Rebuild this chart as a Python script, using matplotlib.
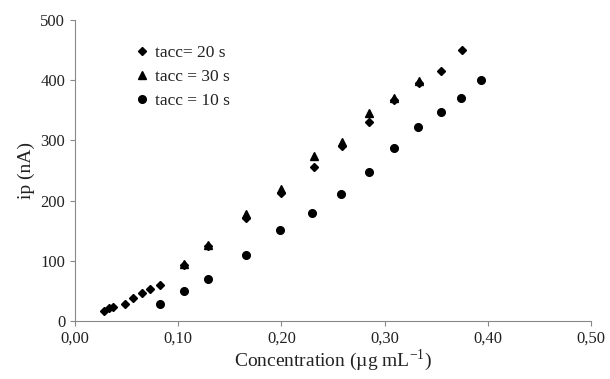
import numpy as np
import matplotlib.pyplot as plt
from matplotlib.ticker import FuncFormatter

plt.rcParams['font.family'] = ['Liberation Serif', 'DejaVu Serif']
plt.rcParams['mathtext.fontset'] = 'stix'

# tacc = 20 s
conc_20 = [0.028, 0.033, 0.037, 0.048, 0.056, 0.065, 0.073, 0.082,
           0.106, 0.129, 0.166, 0.200, 0.232, 0.259, 0.285, 0.309, 0.333, 0.355, 0.375]
ip_20 = [17, 21, 24, 28, 38, 46, 53, 60,
         93, 125, 171, 212, 256, 290, 331, 367, 395, 416, 450]

# tacc = 30 s
conc_30 = [0.106, 0.129, 0.166, 0.200, 0.232, 0.259, 0.285, 0.309, 0.333]
ip_30 = [95, 127, 177, 220, 275, 297, 346, 370, 398]

# tacc = 10 s
conc_10 = [0.082, 0.106, 0.129, 0.166, 0.199, 0.230, 0.258, 0.285, 0.309, 0.332, 0.355, 0.374, 0.393]
ip_10 = [29, 50, 69, 110, 151, 180, 211, 247, 288, 323, 347, 371, 400]

fig = plt.figure(figsize=(6.10, 3.79), dpi=100)
ax = fig.add_axes([0.123, 0.153, 0.846, 0.794])

ax.plot(conc_20, ip_20, 'D', color='black', ms=4.5, label='tacc= 20 s')
ax.plot(conc_30, ip_30, '^', color='black', ms=6, label='tacc = 30 s')
ax.plot(conc_10, ip_10, 'o', color='black', ms=5.5, label='tacc = 10 s')

ax.set_xlim(0, 0.5)
ax.set_ylim(0, 500)
ax.set_xticks(np.arange(0, 0.51, 0.1))
ax.set_yticks(np.arange(0, 501, 100))
ax.xaxis.set_major_formatter(FuncFormatter(lambda v, p: f'{v:.2f}'.replace('.', ',')))

for s in ['top', 'right']:
    ax.spines[s].set_visible(False)
for s in ['left', 'bottom']:
    ax.spines[s].set_color('#888888')
ax.tick_params(direction='out', length=3.5, color='#888888', labelsize=12,
               labelcolor='#222222')

ax.set_xlabel('Concentration (µg mL$^{\\mathregular{-1}}$)', fontsize=14, labelpad=1,
              color='#222222')
ax.set_ylabel('ip (nA)', fontsize=14, color='#222222')

ax.legend(loc='upper left', bbox_to_anchor=(0.08, 0.97), frameon=False,
          fontsize=12.5, handletextpad=0.1, handlelength=1.2, labelspacing=0.45,
          labelcolor='#222222')

fig.savefig('out.png', dpi=100)
